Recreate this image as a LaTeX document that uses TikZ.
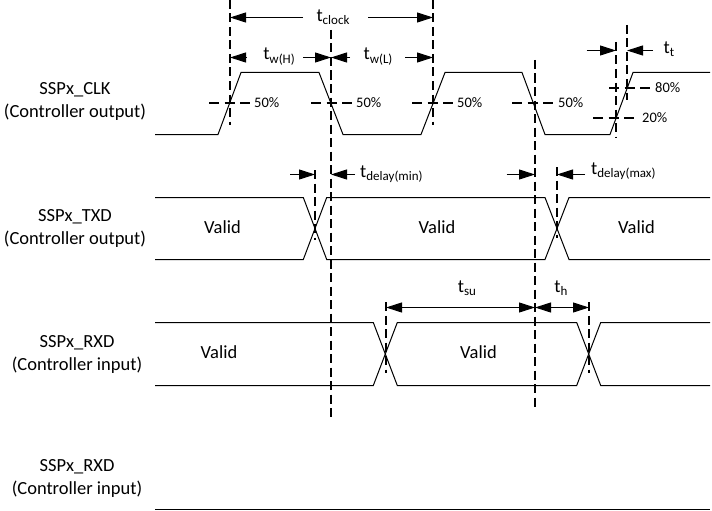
\documentclass[tikz,border=0pt]{standalone}
\usepackage{fontspec}
\setmainfont{Carlito}
\usetikzlibrary{arrows.meta}
\newcommand\sbx[1]{\raisebox{-0.4ex}{\fontsize{13}{15}\selectfont #1}}
\tikzset{
  every node/.style={inner sep=0pt},
  sig/.style={line width=1pt, line join=miter},
  guide/.style={line width=1.8pt, dash pattern=on 9pt off 4.5pt},
  hguide/.style={line width=1.8pt, dash pattern=on 10pt off 5.5pt},
  dimr/.style={line width=1pt, -{Triangle[length=16pt,width=10pt]}},
  dimb/.style={line width=1pt, {Triangle[length=16pt,width=10pt]}-{Triangle[length=16pt,width=10pt]}},
  big/.style={font=\fontsize{18.5}{23}\selectfont},
  pct/.style={font=\fontsize{14.5}{16}\selectfont, anchor=west},
  title/.style={big, align=center},
}
\begin{document}
\begin{tikzpicture}[x=1pt,y=-1pt]
\useasboundingbox (0,0) rectangle (712,511);

% ---- titles
\node[title] (lclk) at (75,101) {SSPx\_CLK\\(Controller output)};
\node[title] (ltxd) at (75,228.5) {SSPx\_TXD\\(Controller output)};
\node[title] (lrxd) at (77,354) {SSPx\_RXD\\(Controller input)};
\node[title] (lrxd2) at (77,478) {SSPx\_RXD\\(Controller input)};

% ---- CLK waveform
\draw[sig] (155,134.5) coordinate (c0) -- (218,134.5) -- (241,72.5) -- (319,72.5)
  -- (343,134.5) -- (421,134.5) -- (445,72.5) -- (522,72.5) -- (545,134.5)
  -- (610,134.5) -- (633,72.5) -- (710,72.5) coordinate (c1);

% ---- TXD waveform
\draw[sig] (155,197.5) coordinate (t0) -- (303.3,197.5) -- (326.7,259.5) -- (545,259.5)
  -- (569,197.5) -- (710,197.5);
\draw[sig] (155,259.5) coordinate (t1) -- (303.3,259.5) -- (326.7,197.5) -- (545,197.5)
  -- (569,259.5) -- (710,259.5);

% ---- RXD waveform
\draw[sig] (155,322.5) coordinate (r0) -- (373.3,322.5) -- (397.3,385.5) -- (576.7,385.5)
  -- (600.7,322.5) -- (710,322.5);
\draw[sig] (155,385.5) coordinate (r1) -- (373.3,385.5) -- (397.3,322.5) -- (576.7,322.5)
  -- (600.7,385.5) -- (710,385.5);

% ---- RXD 2
\coordinate (b0) at (155,509.5);
\coordinate (b1) at (710,509.5);
\draw[sig] (b0) -- (b1);

% ---- vertical guide lines
\coordinate (v1t) at (230,0);   \coordinate (v1b) at (230,125);
\coordinate (v2t) at (331,30);  \coordinate (v2b) at (331,420);
\coordinate (v3t) at (433,0);   \coordinate (v3b) at (433,125);
\coordinate (v4t) at (535,60);  \coordinate (v4b) at (535,410);
\coordinate (v5t) at (616,42);  \coordinate (v5b) at (616,137);
\coordinate (v6t) at (627,25);  \coordinate (v6b) at (627,100);
\coordinate (v7t) at (315,170); \coordinate (v7b) at (315,240);
\coordinate (v8t) at (557,167); \coordinate (v8b) at (557,238);
\coordinate (v9t) at (386,302); \coordinate (v9b) at (386,373);
\coordinate (v10t) at (589,302);\coordinate (v10b) at (589,373);
\foreach \v in {1,...,10} \draw[guide] (v\v t) -- (v\v b);

% ---- horizontal level lines
\coordinate (h1a) at (209,103); \coordinate (h1b) at (250,103);
\coordinate (h2a) at (311,103); \coordinate (h2b) at (352,103);
\coordinate (h3a) at (412,103); \coordinate (h3b) at (453,103);
\coordinate (h4a) at (512,103); \coordinate (h4b) at (553,103);
\coordinate (h5a) at (609,88);  \coordinate (h5b) at (650,88);
\coordinate (h6a) at (593,118); \coordinate (h6b) at (634,118);
\foreach \h in {1,...,6} \draw[hguide] (h\h a) -- (h\h b);
\node[pct] (p1) at (254,103) {50\%};
\node[pct] (p2) at (356,103) {50\%};
\node[pct] (p3) at (457,103) {50\%};
\node[pct] (p4) at (558,103) {50\%};
\node[pct] (p5) at (655,88) {80\%};
\node[pct] (p6) at (642,118) {20\%};

% ---- t_clock
\node[big] (tclk) at (333,17) {t\sbx{clock}};
\coordinate (tclkl) at (303,17.5); \coordinate (tclkr) at (368,17.5);
\draw[dimr] (tclkl) -- (v1t |- tclkl);
\draw[dimr] (tclkr) -- (v3t |- tclkr);

% ---- t_w(H), t_w(L)
\node[big] (twh) at (279,56.5) {t\sbx{w(H)}};
\coordinate (twhl) at (247,57.5); \coordinate (twhr) at (303,57.5);
\draw[dimr] (twhl) -- (v1t |- twhl);
\draw[dimr] (twhr) -- (v2t |- twhr);
\node[big] (twl) at (378,56.5) {t\sbx{w(L)}};
\coordinate (twll) at (350,57.5); \coordinate (twlr) at (405,57.5);
\draw[dimr] (twll) -- (v2t |- twll);
\draw[dimr] (twlr) -- (v3t |- twlr);

% ---- t_t
\node[big] (ttt) at (669,49) {t\sbx{t}};
\coordinate (ttl) at (586.7,50.5); \coordinate (ttr) at (653,50.5);
\draw[dimr] (ttl) -- (v5t |- ttl);
\draw[dimr] (ttr) -- (v6t |- ttr);

% ---- t_delay(min)
\node[big, anchor=west] (tdmin) at (360,174) {t\sbx{delay(min)}};
\coordinate (tdminl) at (290,174.5); \coordinate (tdminr) at (355,174.5);
\draw[dimr] (tdminl) -- (v7t |- tdminl);
\draw[dimr] (tdminr) -- (v2t |- tdminr);

% ---- t_delay(max)
\node[big, anchor=west] (tdmax) at (591,171) {t\sbx{delay(max)}};
\coordinate (tdmaxl) at (506.7,174.5); \coordinate (tdmaxr) at (585,174.5);
\draw[dimr] (tdmaxl) -- (v4t |- tdmaxl);
\draw[dimr] (tdmaxr) -- (v8t |- tdmaxr);

% ---- t_su, t_h
\node[big] (tsu) at (467,288) {t\sbx{su}};
\node[big] (th) at (561,288) {t\sbx{h}};
\coordinate (su) at (0,307.5);
\draw[dimb] (v9t |- su) -- (v4t |- su);
\draw[dimb] (v4t |- su) -- (v10t |- su);

% ---- Valid labels
\node[big] (val1) at (222.5,227) {Valid};
\node[big] (val2) at (437,227) {Valid};
\node[big] (val3) at (636.5,227) {Valid};
\node[big] (val4) at (219,352) {Valid};
\node[big] (val5) at (478.5,352) {Valid};
\end{tikzpicture}
\end{document}
